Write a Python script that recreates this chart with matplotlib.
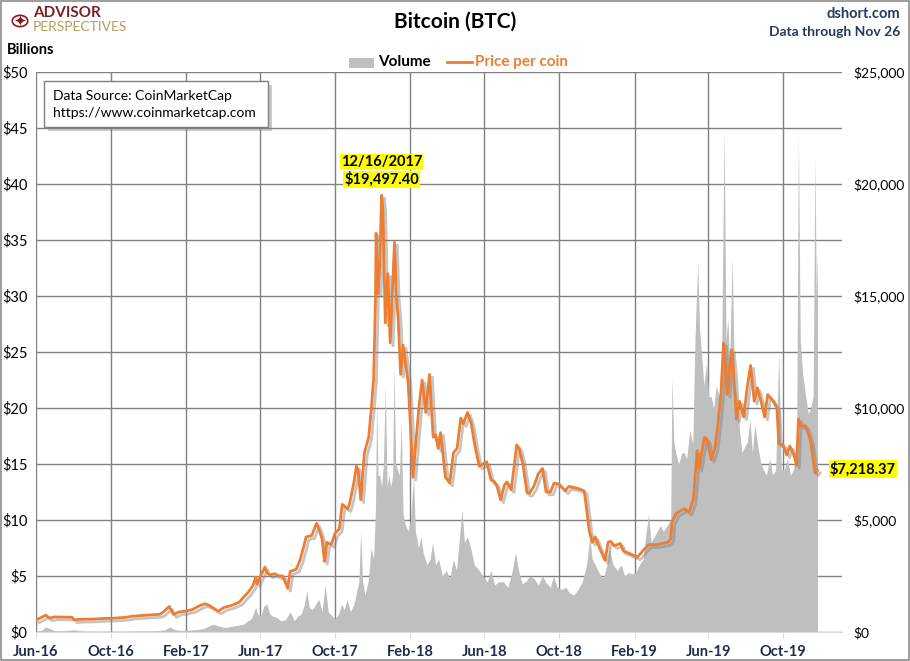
import matplotlib
matplotlib.use('Agg')
import matplotlib.pyplot as plt
import matplotlib.dates as mdates
import matplotlib.patheffects as pe
from matplotlib.patches import Rectangle, Circle
from matplotlib.ticker import FuncFormatter, MultipleLocator
import pandas as pd

plt.rcParams['font.family'] = ['Lato', 'DejaVu Sans']

# daily volume (billions USD)
vol_dates = [
    '2016-06-01', '2016-06-10', '2016-06-17', '2016-06-24', '2016-07-01', '2016-07-15', '2016-08-02',
    '2016-08-15', '2016-09-01', '2016-09-15', '2016-10-01', '2016-10-15', '2016-11-01', '2016-11-15',
    '2016-12-01', '2016-12-15', '2016-12-28',
    '2017-01-05', '2017-01-12', '2017-01-20', '2017-02-01', '2017-02-15', '2017-03-01', '2017-03-10',
    '2017-03-17', '2017-03-25', '2017-04-05', '2017-04-15', '2017-04-25', '2017-05-05', '2017-05-12',
    '2017-05-18', '2017-05-25', '2017-05-28', '2017-06-02', '2017-06-07', '2017-06-12', '2017-06-17',
    '2017-06-22', '2017-06-28', '2017-07-05', '2017-07-12', '2017-07-17', '2017-07-20', '2017-07-27',
    '2017-08-01', '2017-08-07', '2017-08-12', '2017-08-16', '2017-08-20', '2017-08-25', '2017-09-01',
    '2017-09-05', '2017-09-10', '2017-09-15', '2017-09-20', '2017-09-25', '2017-10-01', '2017-10-06',
    '2017-10-12', '2017-10-16', '2017-10-21', '2017-10-26', '2017-11-01', '2017-11-06', '2017-11-09',
    '2017-11-12', '2017-11-15', '2017-11-19', '2017-11-24', '2017-11-29', '2017-12-03', '2017-12-06',
    '2017-12-08', '2017-12-10', '2017-12-13', '2017-12-16', '2017-12-19', '2017-12-22', '2017-12-25',
    '2017-12-28', '2017-12-31',
    '2018-01-03', '2018-01-05', '2018-01-08', '2018-01-11', '2018-01-14', '2018-01-17', '2018-01-20',
    '2018-01-24', '2018-01-28', '2018-02-01', '2018-02-06', '2018-02-09', '2018-02-14', '2018-02-18',
    '2018-02-22', '2018-02-28', '2018-03-05', '2018-03-09', '2018-03-14', '2018-03-19', '2018-03-25',
    '2018-03-31', '2018-04-06', '2018-04-12', '2018-04-17', '2018-04-22', '2018-04-26', '2018-04-30',
    '2018-05-05', '2018-05-10', '2018-05-16', '2018-05-24', '2018-05-30', '2018-06-06', '2018-06-12',
    '2018-06-18', '2018-06-25', '2018-07-02', '2018-07-10', '2018-07-17', '2018-07-22', '2018-07-27',
    '2018-08-02', '2018-08-08', '2018-08-14', '2018-08-21', '2018-08-28', '2018-09-04', '2018-09-10',
    '2018-09-17', '2018-09-22', '2018-09-28', '2018-10-05', '2018-10-12', '2018-10-18', '2018-10-25',
    '2018-11-01', '2018-11-08', '2018-11-15', '2018-11-20', '2018-11-24', '2018-11-29', '2018-12-06',
    '2018-12-12', '2018-12-18', '2018-12-22', '2018-12-28',
    '2019-01-04', '2019-01-10', '2019-01-16', '2019-01-22', '2019-01-28', '2019-02-03', '2019-02-09',
    '2019-02-15', '2019-02-19', '2019-02-24', '2019-02-28', '2019-03-05', '2019-03-10', '2019-03-15',
    '2019-03-20', '2019-03-26', '2019-04-01', '2019-04-03', '2019-04-06', '2019-04-09', '2019-04-14',
    '2019-04-19', '2019-04-23', '2019-04-27', '2019-05-02', '2019-05-07', '2019-05-10', '2019-05-12',
    '2019-05-15', '2019-05-18', '2019-05-21', '2019-05-25', '2019-05-29', '2019-06-02', '2019-06-06',
    '2019-06-10', '2019-06-14', '2019-06-19', '2019-06-23', '2019-06-27', '2019-06-30', '2019-07-03',
    '2019-07-06', '2019-07-10', '2019-07-14', '2019-07-18', '2019-07-22', '2019-07-26', '2019-07-30',
    '2019-08-04', '2019-08-08', '2019-08-12', '2019-08-16', '2019-08-21', '2019-08-26', '2019-08-30',
    '2019-09-04', '2019-09-09', '2019-09-14', '2019-09-19', '2019-09-24', '2019-09-28', '2019-10-03',
    '2019-10-08', '2019-10-13', '2019-10-18', '2019-10-23', '2019-10-26', '2019-10-29', '2019-11-02',
    '2019-11-07', '2019-11-11', '2019-11-15', '2019-11-19', '2019-11-22', '2019-11-24', '2019-11-26',
]
vol_values = [
    0.10, 0.15, 0.45, 0.30, 0.12, 0.10, 0.20,
    0.08, 0.07, 0.08, 0.07, 0.07, 0.08, 0.10,
    0.09, 0.12, 0.20,
    0.45, 0.25, 0.15, 0.15, 0.20, 0.30, 0.55,
    0.70, 0.55, 0.40, 0.50, 0.60, 0.70, 1.00,
    1.20, 2.20, 1.60, 1.40, 2.30, 2.50, 1.60,
    1.40, 1.30, 1.00, 1.10, 1.50, 1.80, 1.00,
    1.40, 1.60, 2.40, 3.70, 2.20, 2.00, 2.60,
    2.90, 1.80, 4.20, 1.80, 1.50, 1.20, 1.50,
    2.50, 2.00, 2.90, 1.80, 2.50, 3.80, 4.50,
    9.00, 4.50, 3.30, 4.50, 7.50, 6.50, 11.0,
    21.0, 14.0, 14.0, 13.0, 15.0, 22.0, 13.0,
    14.0, 13.0,
    14.0, 23.7, 15.0, 14.5, 14.0, 18.8, 10.5,
    9.5, 9.0, 10.0, 13.8, 9.0, 7.5, 8.5,
    7.0, 6.0, 6.5, 8.0, 6.0, 6.5, 5.0,
    5.5, 4.8, 6.5, 5.5, 8.5, 10.9, 8.0,
    8.5, 7.5, 6.0, 5.5, 5.0, 4.5, 5.5,
    4.2, 4.5, 4.5, 4.0, 5.5, 7.1, 5.5,
    4.3, 4.5, 5.0, 4.8, 4.2, 5.0, 4.4,
    4.0, 5.0, 4.0, 3.8, 4.0, 3.5, 3.3,
    3.8, 4.5, 6.0, 8.5, 6.5, 6.0, 5.2,
    4.8, 6.0, 7.5, 6.0,
    5.5, 6.0, 5.0, 5.3, 5.2, 5.3, 6.0,
    6.5, 8.5, 10.5, 8.0, 8.5, 9.0, 9.5,
    9.0, 9.5, 10.0, 22.8, 17.0, 16.0, 15.0,
    16.0, 16.0, 15.5, 18.0, 16.8, 25.0, 28.7,
    33.0, 27.0, 25.0, 22.0, 24.0, 21.0, 21.0,
    20.0, 22.0, 21.0, 25.0, 45.0, 26.0, 28.0,
    24.0, 33.5, 22.0, 21.0, 18.0, 16.0, 16.5,
    17.0, 19.0, 16.0, 18.5, 16.5, 15.0, 14.5,
    14.0, 15.5, 14.0, 14.5, 25.0, 14.5, 14.5,
    15.5, 14.0, 14.5, 16.5, 44.4, 26.0, 23.0,
    21.0, 19.5, 20.0, 21.0, 42.6, 30.0, 34.0,
]

# price per coin (USD)
price_dates = [
    '2016-06-01', '2016-06-12', '2016-06-17', '2016-06-23', '2016-07-01', '2016-07-15', '2016-07-30',
    '2016-08-02', '2016-08-15', '2016-09-01', '2016-09-20', '2016-10-05', '2016-10-25', '2016-11-05',
    '2016-11-20', '2016-12-05', '2016-12-20', '2016-12-26',
    '2017-01-04', '2017-01-11', '2017-01-20', '2017-01-28', '2017-02-10', '2017-02-23', '2017-03-03',
    '2017-03-10', '2017-03-17', '2017-03-25', '2017-04-03', '2017-04-15', '2017-04-28', '2017-05-05',
    '2017-05-12', '2017-05-20', '2017-05-25', '2017-05-27', '2017-06-01', '2017-06-09', '2017-06-12',
    '2017-06-17', '2017-06-25', '2017-07-02', '2017-07-08', '2017-07-16', '2017-07-20', '2017-07-30',
    '2017-08-05', '2017-08-12', '2017-08-15', '2017-08-24', '2017-09-01', '2017-09-06', '2017-09-10',
    '2017-09-14', '2017-09-18', '2017-09-25', '2017-10-01', '2017-10-08', '2017-10-13', '2017-10-17',
    '2017-10-22', '2017-10-25', '2017-11-01', '2017-11-05', '2017-11-08', '2017-11-12', '2017-11-18',
    '2017-11-25', '2017-11-29', '2017-12-03', '2017-12-06', '2017-12-07', '2017-12-10', '2017-12-13',
    '2017-12-16', '2017-12-18', '2017-12-22', '2017-12-26', '2017-12-30',
    '2018-01-06', '2018-01-09', '2018-01-12', '2018-01-16', '2018-01-20', '2018-01-28', '2018-02-01',
    '2018-02-05', '2018-02-09', '2018-02-15', '2018-02-20', '2018-02-26', '2018-03-04', '2018-03-10',
    '2018-03-14', '2018-03-18', '2018-03-22', '2018-03-30', '2018-04-06', '2018-04-12', '2018-04-18',
    '2018-04-24', '2018-04-28', '2018-05-05', '2018-05-11', '2018-05-17', '2018-05-24', '2018-05-30',
    '2018-06-05', '2018-06-12', '2018-06-18', '2018-06-22', '2018-06-28', '2018-07-04', '2018-07-08',
    '2018-07-15', '2018-07-20', '2018-07-24', '2018-07-28', '2018-08-03', '2018-08-10', '2018-08-14',
    '2018-08-21', '2018-08-28', '2018-09-04', '2018-09-10', '2018-09-17', '2018-09-23', '2018-10-01',
    '2018-10-11', '2018-10-17', '2018-11-02', '2018-11-11', '2018-11-14', '2018-11-19', '2018-11-24',
    '2018-11-29', '2018-12-06', '2018-12-15', '2018-12-20', '2018-12-24', '2018-12-30',
    '2019-01-09', '2019-01-14', '2019-01-20', '2019-01-28', '2019-02-06', '2019-02-17', '2019-02-24',
    '2019-03-10', '2019-03-27', '2019-04-01', '2019-04-03', '2019-04-10', '2019-04-23', '2019-05-01',
    '2019-05-08', '2019-05-11', '2019-05-14', '2019-05-17', '2019-05-26', '2019-05-30', '2019-06-06',
    '2019-06-12', '2019-06-17', '2019-06-22', '2019-06-26', '2019-06-29', '2019-07-02', '2019-07-09',
    '2019-07-13', '2019-07-17', '2019-07-22', '2019-07-29', '2019-08-03', '2019-08-09', '2019-08-15',
    '2019-08-20', '2019-08-27', '2019-09-01', '2019-09-06', '2019-09-15', '2019-09-21', '2019-09-24',
    '2019-10-01', '2019-10-07', '2019-10-12', '2019-10-18', '2019-10-23', '2019-10-26', '2019-10-30',
    '2019-11-07', '2019-11-15', '2019-11-22', '2019-11-26',
]
price_values = [
    536, 680, 750, 620, 675, 665, 655,
    545, 570, 575, 605, 615, 655, 705,
    735, 765, 790, 905,
    1140, 780, 895, 920, 995, 1180, 1260,
    1190, 1070, 930, 1090, 1180, 1330, 1550,
    1750, 2050, 2450, 2150, 2450, 2900, 2650,
    2550, 2600, 2500, 2500, 1950, 2700, 2800,
    3200, 3900, 4250, 4300, 4850, 4500, 4150,
    3150, 4000, 3900, 4400, 4600, 5700, 5600,
    5500, 5750, 6700, 7400, 7200, 5900, 8000,
    8700, 9900, 11300, 14800, 17800, 15100, 16400,
    19497.40, 18900, 13800, 16000, 12900,
    17400, 15000, 14000, 11500, 12800, 11200, 9200,
    6900, 8200, 10100, 11250, 9800, 11500, 8700,
    8800, 8200, 8900, 6900, 6650, 8000, 8200,
    9550, 9300, 9800, 9300, 8300, 7400, 7500,
    7600, 6800, 6700, 6500, 5900, 6550, 6700,
    6350, 7400, 8350, 8200, 7500, 6200, 6200,
    6500, 7050, 7300, 6250, 6250, 6650, 6600,
    6300, 6500, 6400, 6300, 5700, 4550, 4000,
    4250, 3750, 3200, 4000, 4050, 3850,
    3950, 3600, 3550, 3450, 3350, 3700, 3900,
    3900, 4000, 4150, 4900, 5300, 5500, 5350,
    5950, 7000, 8100, 7300, 8700, 8600, 7700,
    8200, 9300, 10700, 12900, 11900, 10600, 12600,
    11400, 9500, 10300, 9600, 10800, 11900, 10300,
    10900, 10200, 9600, 10600, 10300, 10000, 8400,
    8350, 7900, 8300, 7950, 7450, 9500, 9200,
    9200, 8500, 7100, 7218.37,
]

peak_date, peak_price = '12/16/2017', 19497.40
last_price = 7218.37

W, H = 910, 661


def fx(x):
    return x / W


def fy(y):
    return 1 - y / H


fig = plt.figure(figsize=(9.10, 6.61), dpi=100, facecolor='w')
ax = fig.add_axes([fx(36), fy(632), fx(842) - fx(36), fy(72) - fy(632)])
ax2 = ax.twinx()

vd = pd.to_datetime(vol_dates)
pdt = pd.to_datetime(price_dates)

ax.fill_between(vd, 0, vol_values, color='#bfbfbf', linewidth=0, zorder=2)
ax2.plot(pdt, price_values, color='#ed7d31', linewidth=2, zorder=3,
         path_effects=[pe.SimpleLineShadow(offset=(2, -2), shadow_color='#7f7f7f', alpha=0.45),
                       pe.Normal()])

ax.set_ylim(0, 50)
ax2.set_ylim(0, 25000)
ax.set_xlim(pd.Timestamp('2016-06-01'), pd.Timestamp('2020-01-05'))

ax.yaxis.set_major_locator(MultipleLocator(5))
ax.yaxis.set_major_formatter(FuncFormatter(lambda v, p: '${:,.0f}'.format(v)))
ax2.yaxis.set_major_locator(MultipleLocator(5000))
ax2.yaxis.set_major_formatter(FuncFormatter(lambda v, p: '${:,.0f}'.format(v)))

ax.xaxis.set_major_locator(mdates.MonthLocator(bymonth=[2, 6, 10]))
ax.xaxis.set_major_formatter(mdates.DateFormatter('%b-%y'))

ax.set_axisbelow(True)
ax.grid(True, color='#808080', linewidth=1)
for a in (ax, ax2):
    for s in a.spines.values():
        s.set_visible(False)
ax.spines['bottom'].set_visible(True)
ax.spines['bottom'].set_color('#d9d9d9')
ax.spines['bottom'].set_zorder(4)

ax.tick_params(axis='y', length=0, pad=6, labelsize=10.5, labelcolor='black')
ax2.tick_params(axis='y', length=0, pad=8, labelsize=10, labelcolor='black')
ax.tick_params(axis='x', length=4, color='#d9d9d9', pad=5, labelsize=10.5, labelcolor='#1f2d4d')
for lbl in ax.get_xticklabels():
    lbl.set_fontweight('bold')

# header texts
fig.text(fx(455), fy(22), 'Bitcoin (BTC)', ha='center', va='center', fontsize=15, fontweight='bold')
fig.text(fx(900), fy(14), 'dshort.com', ha='right', va='center', fontsize=10.5, fontweight='bold',
         color='#243a64')
fig.text(fx(900), fy(32), 'Data through Nov 26', ha='right', va='center', fontsize=10, fontweight='bold',
         color='#243a64')
fig.text(fx(7), fy(50), 'Billions', ha='left', va='center', fontsize=10.5, fontweight='bold')

# logo
fig.patches.append(Circle((fx(20), fy(21)), 0.0085, transform=fig.transFigure, facecolor='none',
                          edgecolor='#8b1a1a', linewidth=1.2))
fig.text(fx(20), fy(21), '\u2726', ha='center', va='center', fontsize=11, color='#8b1a1a',
         family=['DejaVu Sans'])
fig.text(fx(33), fy(13), 'ADVISOR', ha='left', va='center', fontsize=11, fontweight='bold', color='#7d1f1f')
fig.text(fx(33), fy(27), 'PERSPECTIVES', ha='left', va='center', fontsize=10, color='#b89a5e')

# legend
fig.patches.append(Rectangle((fx(349), fy(68)), fx(25), fy(58) - fy(68), transform=fig.transFigure,
                             facecolor='#bfbfbf', edgecolor='none'))
fig.text(fx(378), fy(62), 'Volume', ha='left', va='center', fontsize=11, fontweight='bold')
fig.lines.append(plt.Line2D([fx(447), fx(472)], [fy(62), fy(62)], transform=fig.transFigure,
                            color='#ed7d31', linewidth=2))
fig.text(fx(475), fy(62), 'Price per coin', ha='left', va='center', fontsize=11, fontweight='bold',
         color='#ed7d31')

# data source box
src = Rectangle((fx(44), fy(127)), fx(268) - fx(44), fy(81) - fy(127), transform=fig.transFigure,
                facecolor='white', edgecolor='#7f7f7f', linewidth=1, zorder=5,
                path_effects=[pe.withSimplePatchShadow(offset=(3, -3), shadow_rgbFace='#7f7f7f', alpha=0.4)])
fig.patches.append(src)
fig.text(fx(53), fy(96), 'Data Source: CoinMarketCap', ha='left', va='center', fontsize=10, zorder=6)
fig.text(fx(53), fy(113), 'https://www.coinmarketcap.com', ha='left', va='center', fontsize=10, zorder=6)

# annotations
hl = dict(boxstyle='square,pad=0.08', facecolor='#ffff00', edgecolor='none')
ax2.annotate(peak_date, xy=(pd.Timestamp('2017-12-16'), peak_price), xytext=(0, 24),
             textcoords='offset points', ha='center', va='center', fontsize=10.5, fontweight='bold', bbox=hl)
ax2.annotate('${:,.2f}'.format(peak_price), xy=(pd.Timestamp('2017-12-16'), peak_price), xytext=(0, 11.5),
             textcoords='offset points', ha='center', va='center', fontsize=10.5, fontweight='bold', bbox=hl)
ax2.annotate('${:,.2f}'.format(last_price), xy=(pd.Timestamp('2019-11-26'), last_price), xytext=(9, 1),
             textcoords='offset points', ha='left', va='center', fontsize=10.5, fontweight='bold', bbox=hl)

# outer border
fig.patches.append(Rectangle((0.001, 0.001), 0.998, 0.998, transform=fig.transFigure, facecolor='none',
                             edgecolor='#8c8c8c', linewidth=1.2))

fig.savefig('out.png', dpi=100)
